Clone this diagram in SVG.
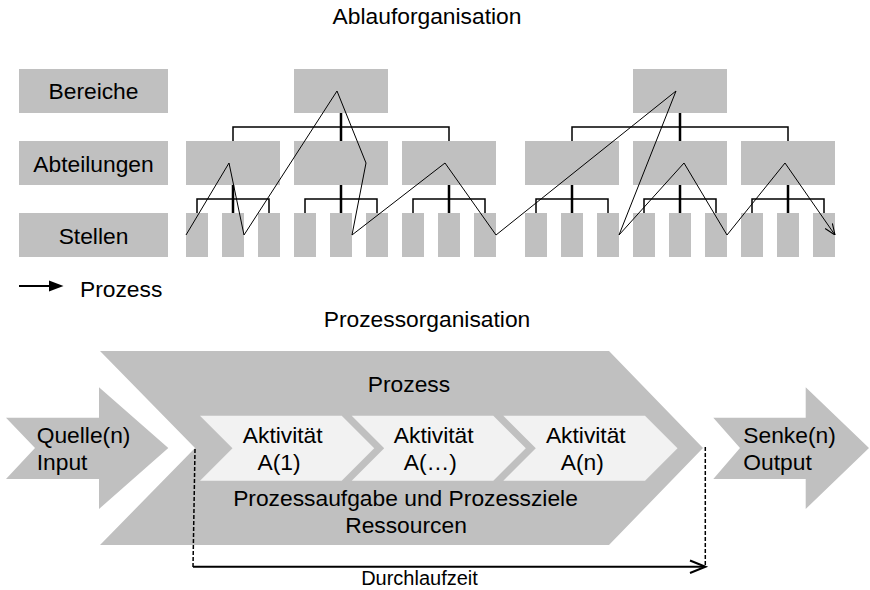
<svg xmlns="http://www.w3.org/2000/svg" width="870" height="590" viewBox="0 0 870 590">
<defs>
<style>
text{font-family:"Liberation Sans",Arial,sans-serif;font-size:22.8px;fill:#000}
.m{text-anchor:middle}
.box{fill:#c0c0c0}
.act{fill:#f2f2f2}
.tn{stroke:#000;stroke-width:1.5;fill:none}
.tk{stroke:#000;stroke-width:2.5;fill:none}
.zz{stroke:#000;stroke-width:1;fill:none}
.dash{stroke:#000;stroke-width:1.5;stroke-dasharray:4 2;fill:none}
</style>
<marker id="open" viewBox="0 0 10 10" refX="10" refY="5" markerUnits="userSpaceOnUse" markerWidth="11" markerHeight="11" orient="auto">
<path d="M0,1 L10,5 L0,9" fill="none" stroke="#000" stroke-width="1"/>
</marker>
</defs>
<rect width="870" height="590" fill="#fff"/>

<text id="title-ablauf" class="m" x="427" y="24">Ablauforganisation</text>

<g id="label-bereiche"><rect class="box" x="19" y="69" width="149" height="44"/><text class="m" x="93.5" y="99.3">Bereiche</text></g>
<g id="label-abteilungen"><rect class="box" x="19" y="141" width="149" height="44"/><text class="m" x="93.5" y="171.7">Abteilungen</text></g>
<g id="label-stellen"><rect class="box" x="19" y="213" width="149" height="44"/><text class="m" x="93.5" y="244">Stellen</text></g>

<g id="bereich-1"><rect class="box" x="294" y="69" width="94" height="44"/></g>
<g id="bereich-2"><rect class="box" x="633" y="69" width="94" height="44"/></g>

<g id="abteilung-1"><rect class="box" x="186" y="141" width="94" height="44"/></g>
<g id="abteilung-2"><rect class="box" x="294" y="141" width="94" height="44"/></g>
<g id="abteilung-3"><rect class="box" x="402" y="141" width="94" height="44"/></g>
<g id="abteilung-4"><rect class="box" x="525" y="141" width="94" height="44"/></g>
<g id="abteilung-5"><rect class="box" x="633" y="141" width="94" height="44"/></g>
<g id="abteilung-6"><rect class="box" x="741" y="141" width="94" height="44"/></g>

<g id="stellen">
<rect class="box" x="186" y="213" width="22" height="44"/>
<rect class="box" x="222" y="213" width="22" height="44"/>
<rect class="box" x="258" y="213" width="22" height="44"/>
<rect class="box" x="294" y="213" width="22" height="44"/>
<rect class="box" x="330" y="213" width="22" height="44"/>
<rect class="box" x="366" y="213" width="22" height="44"/>
<rect class="box" x="402" y="213" width="22" height="44"/>
<rect class="box" x="438" y="213" width="22" height="44"/>
<rect class="box" x="474" y="213" width="22" height="44"/>
<rect class="box" x="525" y="213" width="22" height="44"/>
<rect class="box" x="561" y="213" width="22" height="44"/>
<rect class="box" x="597" y="213" width="22" height="44"/>
<rect class="box" x="633" y="213" width="22" height="44"/>
<rect class="box" x="669" y="213" width="22" height="44"/>
<rect class="box" x="705" y="213" width="22" height="44"/>
<rect class="box" x="741" y="213" width="22" height="44"/>
<rect class="box" x="777" y="213" width="22" height="44"/>
<rect class="box" x="813" y="213" width="22" height="44"/>
</g>

<g id="connectors">
<path class="tk" d="M341,113V141M680,113V141"/>
<path class="tn" d="M233,141V127H449V141M572,141V127H788V141"/>
<path class="tk" d="M233,185V213M341,185V213M449,185V213M572,185V213M680,185V213M788,185V213"/>
<path class="tn" d="M197,213V199H269V213M305,213V199H377V213M413,213V199H485V213M536,213V199H608V213M644,213V199H716V213M752,213V199H824V213"/>
<path class="zz" marker-end="url(#open)" d="M186,235 L229,163 L244,235 L337,91 L366,163 L352,235 L445,163 L496,235 L676,91 L619,235 L684,163 L727,235 L785,163 L835,235"/>
</g>

<g id="legend">
<line x1="19" y1="286" x2="52" y2="286" stroke="#000" stroke-width="2.2"/>
<polygon points="49,280.5 63.5,286 49,291.5" fill="#000"/>
<text x="80" y="296.7">Prozess</text>
</g>

<text id="title-prozess" class="m" x="427" y="327">Prozessorganisation</text>

<g id="quelle">
<polygon class="box" points="6,417.7 99,417.7 99,387.3 168.3,448 99,509 99,479 6,479 35,448"/>
<text x="36.7" y="443.3">Quelle(n)</text>
<text x="36.7" y="470">Input</text>
</g>

<g id="prozess">
<polygon class="box" points="100,351 609,351 703,448 609,545 100,545 195,448"/>
<text class="m" x="409" y="391.7">Prozess</text>
<text class="m" x="405.5" y="506">Prozessaufgabe und Prozessziele</text>
<text class="m" x="406" y="533.3">Ressourcen</text>
</g>

<g id="aktivitaet-1">
<polygon class="act" points="200,415.7 341.7,415.7 374.2,448.2 341.7,480.7 200,480.7 232.5,448.2"/>
<text class="m" x="282.7" y="442.7">Aktivität</text>
<text class="m" x="279" y="470">A(1)</text>
</g>
<g id="aktivitaet-2">
<polygon class="act" points="351.7,415.7 493.3,415.7 525.8,448.2 493.3,480.7 351.7,480.7 384.2,448.2"/>
<text class="m" x="433.7" y="442.7">Aktivität</text>
<text class="m" x="430.3" y="470">A(…)</text>
</g>
<g id="aktivitaet-3">
<polygon class="act" points="503.3,415.7 645,415.7 677.5,448.2 645,480.7 503.3,480.7 535.8,448.2"/>
<text class="m" x="585.8" y="442.7">Aktivität</text>
<text class="m" x="582.3" y="470">A(n)</text>
</g>

<g id="senke">
<polygon class="box" points="713.3,417.7 805.7,417.7 805.7,387.3 869,448 805.7,509 805.7,479 713.3,479 740,448"/>
<text x="743.3" y="443.3">Senke(n)</text>
<text x="743.3" y="470">Output</text>
</g>

<g id="durchlaufzeit">
<path class="dash" d="M195,449 L193,567"/>
<path class="dash" d="M705.3,447 V567"/>
<path d="M193,566.7 H705" stroke="#000" stroke-width="2" fill="none"/>
<path d="M690,560.5 L705.5,566.7 L690,573" stroke="#000" stroke-width="2" fill="none"/>
<text class="m" x="419.5" y="585" style="font-size:20px">Durchlaufzeit</text>
</g>
</svg>
